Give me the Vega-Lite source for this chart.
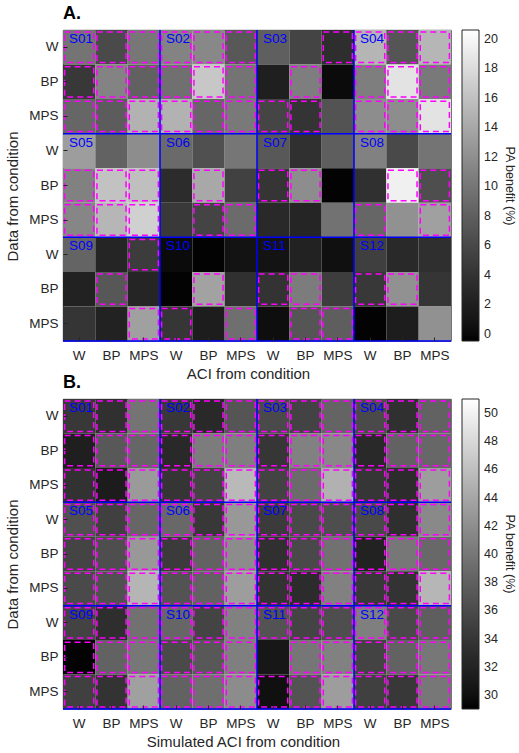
{
"$schema":"https://vega.github.io/schema/vega-lite/v6.json",
"padding":{"left":5,"top":4,"right":0,"bottom":0},
"config":{"font":"Liberation Sans","view":{"stroke":"#262626","strokeWidth":0.8},
"axis":{"labelFont":"Liberation Sans","labelFontSize":13.5,"labelColor":"#262626","titleFont":"Liberation Sans","titleFontSize":15,"titleFontWeight":"normal","titleColor":"#262626","domain":false,"grid":false,"tickColor":"#262626","tickSize":-4,"labelAngle":0},
"legend":{"labelFont":"Liberation Sans","labelFontSize":12.5,"labelColor":"#262626","titleFont":"Liberation Sans","titleFontSize":12.5,"titleFontWeight":"normal","titleColor":"#262626"}},
"datasets":{
"a":[
{"r":1,"c":1,"v":9.84,"s":1},{"r":1,"c":2,"v":6.12,"s":1},{"r":1,"c":3,"v":10.09,"s":1},{"r":1,"c":4,"v":11.09,"s":1},{"r":1,"c":5,"v":11.5,"s":1},{"r":1,"c":6,"v":7.36,"s":1},{"r":1,"c":7,"v":8.02,"s":0},{"r":1,"c":8,"v":5.62,"s":0},{"r":1,"c":9,"v":3.47,"s":1},{"r":1,"c":10,"v":15.06,"s":1},{"r":1,"c":11,"v":7.11,"s":1},{"r":1,"c":12,"v":15.14,"s":1},
{"r":2,"c":1,"v":4.47,"s":1},{"r":2,"c":2,"v":11.09,"s":1},{"r":2,"c":3,"v":8.19,"s":1},{"r":2,"c":4,"v":9.43,"s":1},{"r":2,"c":5,"v":16.46,"s":1},{"r":2,"c":6,"v":9.84,"s":1},{"r":2,"c":7,"v":1.98,"s":0},{"r":2,"c":8,"v":10.67,"s":1},{"r":2,"c":9,"v":0.16,"s":0},{"r":2,"c":10,"v":10.67,"s":1},{"r":2,"c":11,"v":18.53,"s":1},{"r":2,"c":12,"v":10.26,"s":1},
{"r":3,"c":1,"v":8.6,"s":1},{"r":3,"c":2,"v":7.78,"s":1},{"r":3,"c":3,"v":14.81,"s":1},{"r":3,"c":4,"v":14.81,"s":1},{"r":3,"c":5,"v":8.6,"s":1},{"r":3,"c":6,"v":10.26,"s":1},{"r":3,"c":7,"v":5.71,"s":1},{"r":3,"c":8,"v":4.05,"s":1},{"r":3,"c":9,"v":6.95,"s":0},{"r":3,"c":10,"v":11.91,"s":1},{"r":3,"c":11,"v":11.91,"s":1},{"r":3,"c":12,"v":18.53,"s":1},
{"r":4,"c":1,"v":13.15,"s":0},{"r":4,"c":2,"v":8.27,"s":0},{"r":4,"c":3,"v":11.91,"s":0},{"r":4,"c":4,"v":8.93,"s":0},{"r":4,"c":5,"v":6.7,"s":0},{"r":4,"c":6,"v":10.01,"s":0},{"r":4,"c":7,"v":7.36,"s":0},{"r":4,"c":8,"v":3.72,"s":0},{"r":4,"c":9,"v":7.94,"s":0},{"r":4,"c":10,"v":10.92,"s":0},{"r":4,"c":11,"v":6.04,"s":0},{"r":4,"c":12,"v":9.84,"s":0},
{"r":5,"c":1,"v":10.92,"s":1},{"r":5,"c":2,"v":16.05,"s":1},{"r":5,"c":3,"v":15.8,"s":1},{"r":5,"c":4,"v":3.31,"s":0},{"r":5,"c":5,"v":14.06,"s":1},{"r":5,"c":6,"v":5.29,"s":0},{"r":5,"c":7,"v":4.13,"s":1},{"r":5,"c":8,"v":11.91,"s":1},{"r":5,"c":9,"v":-0.33,"s":0},{"r":5,"c":10,"v":3.72,"s":0},{"r":5,"c":11,"v":19.53,"s":1},{"r":5,"c":12,"v":6.53,"s":1},
{"r":6,"c":1,"v":11.33,"s":1},{"r":6,"c":2,"v":15.14,"s":1},{"r":6,"c":3,"v":17.13,"s":1},{"r":6,"c":4,"v":4.55,"s":0},{"r":6,"c":5,"v":5.62,"s":1},{"r":6,"c":6,"v":9.02,"s":1},{"r":6,"c":7,"v":2.98,"s":0},{"r":6,"c":8,"v":2.56,"s":0},{"r":6,"c":9,"v":9.6,"s":0},{"r":6,"c":10,"v":8.6,"s":1},{"r":6,"c":11,"v":12.16,"s":0},{"r":6,"c":12,"v":13.4,"s":1},
{"r":7,"c":1,"v":8.44,"s":0},{"r":7,"c":2,"v":2.64,"s":0},{"r":7,"c":3,"v":4.8,"s":1},{"r":7,"c":4,"v":0.16,"s":0},{"r":7,"c":5,"v":-0.33,"s":0},{"r":7,"c":6,"v":0.74,"s":0},{"r":7,"c":7,"v":0.74,"s":0},{"r":7,"c":8,"v":2.31,"s":0},{"r":7,"c":9,"v":0.49,"s":0},{"r":7,"c":10,"v":5.13,"s":0},{"r":7,"c":11,"v":2.98,"s":0},{"r":7,"c":12,"v":3.64,"s":0},
{"r":8,"c":1,"v":2.31,"s":0},{"r":8,"c":2,"v":7.28,"s":1},{"r":8,"c":3,"v":2.64,"s":0},{"r":8,"c":4,"v":-0.33,"s":0},{"r":8,"c":5,"v":13.57,"s":1},{"r":8,"c":6,"v":3.72,"s":0},{"r":8,"c":7,"v":3.97,"s":1},{"r":8,"c":8,"v":10.51,"s":1},{"r":8,"c":9,"v":4.96,"s":0},{"r":8,"c":10,"v":4.47,"s":1},{"r":8,"c":11,"v":12.16,"s":1},{"r":8,"c":12,"v":4.13,"s":0},
{"r":9,"c":1,"v":4.13,"s":0},{"r":9,"c":2,"v":2.31,"s":0},{"r":9,"c":3,"v":13.4,"s":1},{"r":9,"c":4,"v":4.3,"s":1},{"r":9,"c":5,"v":1.82,"s":0},{"r":9,"c":6,"v":9.35,"s":1},{"r":9,"c":7,"v":0.33,"s":0},{"r":9,"c":8,"v":7.11,"s":1},{"r":9,"c":9,"v":7.94,"s":1},{"r":9,"c":10,"v":-0.33,"s":0},{"r":9,"c":11,"v":1.82,"s":0},{"r":9,"c":12,"v":12.16,"s":0}
],
"b":[
{"r":1,"c":1,"v":34.18,"s":1},{"r":1,"c":2,"v":33.4,"s":1},{"r":1,"c":3,"v":39.78,"s":1},{"r":1,"c":4,"v":34.18,"s":1},{"r":1,"c":5,"v":32.62,"s":1},{"r":1,"c":6,"v":36.94,"s":1},{"r":1,"c":7,"v":35.9,"s":1},{"r":1,"c":8,"v":35.21,"s":1},{"r":1,"c":9,"v":38.32,"s":1},{"r":1,"c":10,"v":35.9,"s":1},{"r":1,"c":11,"v":33.4,"s":1},{"r":1,"c":12,"v":38.14,"s":1},
{"r":2,"c":1,"v":31.59,"s":1},{"r":2,"c":2,"v":37.2,"s":1},{"r":2,"c":3,"v":38.49,"s":1},{"r":2,"c":4,"v":32.62,"s":1},{"r":2,"c":5,"v":40.47,"s":1},{"r":2,"c":6,"v":40.73,"s":1},{"r":2,"c":7,"v":34.0,"s":1},{"r":2,"c":8,"v":40.91,"s":1},{"r":2,"c":9,"v":41.51,"s":1},{"r":2,"c":10,"v":32.62,"s":1},{"r":2,"c":11,"v":38.14,"s":1},{"r":2,"c":12,"v":38.58,"s":1},
{"r":3,"c":1,"v":33.57,"s":1},{"r":3,"c":2,"v":31.24,"s":1},{"r":3,"c":3,"v":42.98,"s":1},{"r":3,"c":4,"v":33.83,"s":1},{"r":3,"c":5,"v":35.38,"s":1},{"r":3,"c":6,"v":45.56,"s":1},{"r":3,"c":7,"v":35.21,"s":1},{"r":3,"c":8,"v":38.92,"s":1},{"r":3,"c":9,"v":44.87,"s":1},{"r":3,"c":10,"v":34.0,"s":1},{"r":3,"c":11,"v":32.97,"s":1},{"r":3,"c":12,"v":43.23,"s":1},
{"r":4,"c":1,"v":36.51,"s":1},{"r":4,"c":2,"v":34.95,"s":1},{"r":4,"c":3,"v":38.49,"s":1},{"r":4,"c":4,"v":38.66,"s":1},{"r":4,"c":5,"v":34.18,"s":1},{"r":4,"c":6,"v":42.8,"s":1},{"r":4,"c":7,"v":34.52,"s":1},{"r":4,"c":8,"v":35.82,"s":1},{"r":4,"c":9,"v":36.33,"s":1},{"r":4,"c":10,"v":35.82,"s":1},{"r":4,"c":11,"v":33.31,"s":1},{"r":4,"c":12,"v":41.6,"s":1},
{"r":5,"c":1,"v":35.38,"s":1},{"r":5,"c":2,"v":36.33,"s":1},{"r":5,"c":3,"v":42.8,"s":1},{"r":5,"c":4,"v":34.52,"s":1},{"r":5,"c":5,"v":38.14,"s":1},{"r":5,"c":6,"v":41.85,"s":1},{"r":5,"c":7,"v":33.4,"s":1},{"r":5,"c":8,"v":35.82,"s":1},{"r":5,"c":9,"v":39.52,"s":1},{"r":5,"c":10,"v":31.93,"s":1},{"r":5,"c":11,"v":40.04,"s":1},{"r":5,"c":12,"v":38.66,"s":1},
{"r":6,"c":1,"v":35.9,"s":1},{"r":6,"c":2,"v":36.51,"s":1},{"r":6,"c":3,"v":45.22,"s":1},{"r":6,"c":4,"v":36.76,"s":1},{"r":6,"c":5,"v":38.14,"s":1},{"r":6,"c":6,"v":43.23,"s":1},{"r":6,"c":7,"v":33.66,"s":1},{"r":6,"c":8,"v":32.97,"s":1},{"r":6,"c":9,"v":40.91,"s":1},{"r":6,"c":10,"v":34.18,"s":1},{"r":6,"c":11,"v":33.66,"s":1},{"r":6,"c":12,"v":45.3,"s":1},
{"r":7,"c":1,"v":35.21,"s":1},{"r":7,"c":2,"v":33.14,"s":1},{"r":7,"c":3,"v":39.52,"s":1},{"r":7,"c":4,"v":38.49,"s":1},{"r":7,"c":5,"v":35.38,"s":1},{"r":7,"c":6,"v":40.91,"s":1},{"r":7,"c":7,"v":36.76,"s":1},{"r":7,"c":8,"v":35.38,"s":1},{"r":7,"c":9,"v":36.33,"s":1},{"r":7,"c":10,"v":40.73,"s":1},{"r":7,"c":11,"v":35.82,"s":1},{"r":7,"c":12,"v":37.8,"s":1},
{"r":8,"c":1,"v":29.17,"s":1},{"r":8,"c":2,"v":38.14,"s":1},{"r":8,"c":3,"v":40.04,"s":1},{"r":8,"c":4,"v":35.9,"s":1},{"r":8,"c":5,"v":37.2,"s":1},{"r":8,"c":6,"v":40.73,"s":1},{"r":8,"c":7,"v":30.73,"s":0},{"r":8,"c":8,"v":39.96,"s":1},{"r":8,"c":9,"v":40.91,"s":1},{"r":8,"c":10,"v":35.21,"s":1},{"r":8,"c":11,"v":38.14,"s":1},{"r":8,"c":12,"v":40.04,"s":1},
{"r":9,"c":1,"v":34.95,"s":1},{"r":9,"c":2,"v":33.66,"s":1},{"r":9,"c":3,"v":43.49,"s":1},{"r":9,"c":4,"v":38.14,"s":1},{"r":9,"c":5,"v":39.27,"s":1},{"r":9,"c":6,"v":41.85,"s":1},{"r":9,"c":7,"v":30.04,"s":1},{"r":9,"c":8,"v":36.76,"s":1},{"r":9,"c":9,"v":43.23,"s":1},{"r":9,"c":10,"v":34.95,"s":1},{"r":9,"c":11,"v":34.18,"s":1},{"r":9,"c":12,"v":40.04,"s":1}
],
"vl":[{"c":3},{"c":6},{"c":9}],
"hl":[{"r":3},{"r":6},{"r":9}],
"subj":[{"r":1,"c":1,"label":"S01"},{"r":1,"c":4,"label":"S02"},{"r":1,"c":7,"label":"S03"},{"r":1,"c":10,"label":"S04"},{"r":4,"c":1,"label":"S05"},{"r":4,"c":4,"label":"S06"},{"r":4,"c":7,"label":"S07"},{"r":4,"c":10,"label":"S08"},{"r":7,"c":1,"label":"S09"},{"r":7,"c":4,"label":"S10"},{"r":7,"c":7,"label":"S11"},{"r":7,"c":10,"label":"S12"}]
},
"vconcat":[
{"width":388,"height":311,
"title":{"text":"A.","anchor":"start","frame":"group","fontSize":18,"fontWeight":"bold","color":"#000000","offset":6},
"layer":[
{"data":{"name":"a"},"mark":{"type":"rect"},"encoding":{
"x":{"field":"c","type":"ordinal","scale":{"type":"band","paddingInner":0,"paddingOuter":0},"axis":{"title":"ACI from condition","labelExpr":"['W','BP','MPS'][(datum.value-1)%3]","labelPadding":11,"titlePadding":5,"titleX":185}},
"y":{"field":"r","type":"ordinal","scale":{"type":"band","paddingInner":0,"paddingOuter":0},"axis":{"title":"Data from condition","labelExpr":"['W','BP','MPS'][(datum.value-1)%3]","labelPadding":9,"titlePadding":8,"titleY":166}},
"color":{"field":"v","type":"quantitative","scale":{"domain":[-0.5,20.6],"range":["#000000","#ffffff"]},"legend":{"title":"PA benefit (%)","orient":"right","offset":11,"padding":0,"gradientLength":311,"gradientThickness":17,"gradientStrokeColor":"#262626","gradientStrokeWidth":1,"values":[0,2,4,6,8,10,12,14,16,18,20],"labelOverlap":false,"labelOffset":5,"titleOrient":"right","titleAngle":-90,"titleAnchor":"middle","titlePadding":5}}}},
{"data":{"name":"a"},"transform":[{"filter":"datum.s==1"}],"mark":{"type":"rect","filled":false,"color":"#ff00ff","strokeWidth":1.5,"strokeDash":[6,4],"width":{"band":0.9},"height":{"band":0.88}},"encoding":{
"x":{"field":"c","type":"ordinal"},"y":{"field":"r","type":"ordinal"}}},
{"data":{"name":"vl"},"mark":{"type":"rule","color":"#0000ff","strokeWidth":1.5},"encoding":{"x":{"field":"c","type":"ordinal","bandPosition":1}}},
{"data":{"name":"hl"},"mark":{"type":"rule","color":"#0000ff","strokeWidth":1.5},"encoding":{"y":{"field":"r","type":"ordinal","bandPosition":1}}},
{"data":{"name":"subj"},"mark":{"type":"text","align":"left","baseline":"top","dx":6,"dy":2,"color":"#0000ff","fontSize":13.5,"font":"Liberation Sans"},"encoding":{
"x":{"field":"c","type":"ordinal","bandPosition":0},"y":{"field":"r","type":"ordinal","bandPosition":0},"text":{"field":"label"}}}
]},
{"width":388,"height":310,
"title":{"text":"B.","anchor":"start","frame":"group","fontSize":18,"fontWeight":"bold","color":"#000000","offset":6},
"layer":[
{"data":{"name":"b"},"mark":{"type":"rect"},"encoding":{
"x":{"field":"c","type":"ordinal","scale":{"type":"band","paddingInner":0,"paddingOuter":0},"axis":{"title":"Simulated ACI from condition","labelExpr":"['W','BP','MPS'][(datum.value-1)%3]","labelPadding":11,"titlePadding":5,"titleX":180}},
"y":{"field":"r","type":"ordinal","scale":{"type":"band","paddingInner":0,"paddingOuter":0},"axis":{"title":"Data from condition","labelExpr":"['W','BP','MPS'][(datum.value-1)%3]","labelPadding":9,"titlePadding":8,"titleY":165}},
"color":{"field":"v","type":"quantitative","scale":{"domain":[29,51],"range":["#000000","#ffffff"]},"legend":{"title":"PA benefit (%)","orient":"right","offset":11,"padding":0,"gradientLength":310,"gradientThickness":17,"gradientStrokeColor":"#262626","gradientStrokeWidth":1,"values":[30,32,34,36,38,40,42,44,46,48,50],"labelOverlap":false,"labelOffset":5,"titleOrient":"right","titleAngle":-90,"titleAnchor":"middle","titlePadding":5}}}},
{"data":{"name":"b"},"transform":[{"filter":"datum.s==1"}],"mark":{"type":"rect","filled":false,"color":"#ff00ff","strokeWidth":1.5,"strokeDash":[6,4],"width":{"band":0.9},"height":{"band":0.88}},"encoding":{
"x":{"field":"c","type":"ordinal"},"y":{"field":"r","type":"ordinal"}}},
{"data":{"name":"vl"},"mark":{"type":"rule","color":"#0000ff","strokeWidth":1.5},"encoding":{"x":{"field":"c","type":"ordinal","bandPosition":1}}},
{"data":{"name":"hl"},"mark":{"type":"rule","color":"#0000ff","strokeWidth":1.5},"encoding":{"y":{"field":"r","type":"ordinal","bandPosition":1}}},
{"data":{"name":"subj"},"mark":{"type":"text","align":"left","baseline":"top","dx":6,"dy":2,"color":"#0000ff","fontSize":13.5,"font":"Liberation Sans"},"encoding":{
"x":{"field":"c","type":"ordinal","bandPosition":0},"y":{"field":"r","type":"ordinal","bandPosition":0},"text":{"field":"label"}}}
]}
],
"spacing":-9,
"resolve":{"scale":{"color":"independent","x":"independent","y":"independent"},"legend":{"color":"independent"}}
}
